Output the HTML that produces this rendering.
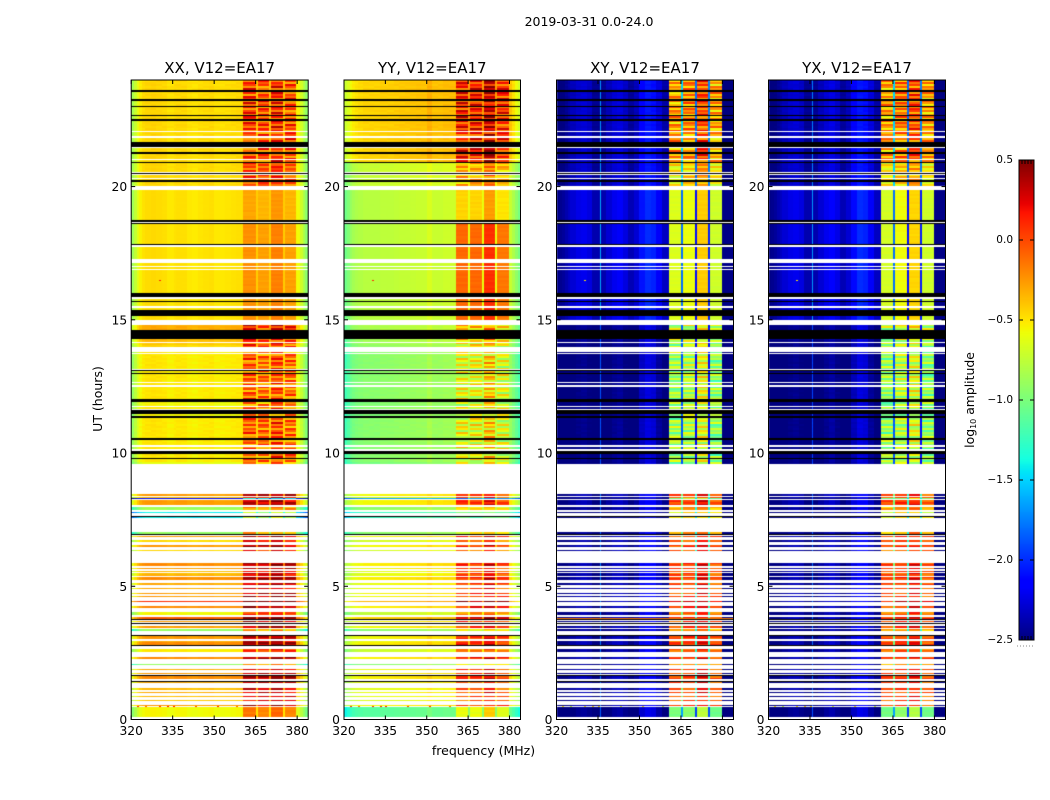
<!DOCTYPE html>
<html lang="en">
<head>
<meta charset="utf-8">
<title>2019-03-31 0.0-24.0</title>
<style>
html,body{margin:0;padding:0;background:#fff;}
#stage{position:relative;width:1050px;height:800px;overflow:hidden;background:#fff;font-family:"DejaVu Sans","Liberation Sans",sans-serif;}
canvas{position:absolute;display:block;}
svg{position:absolute;left:0;top:0;}
svg text{font-family:"DejaVu Sans","Liberation Sans",sans-serif;fill:#000;}
</style>
</head>
<body>
<div id="stage">
<canvas id="c0" style="left:131px;top:80px" width="177" height="640"></canvas>
<canvas id="c1" style="left:344px;top:80px" width="177" height="640"></canvas>
<canvas id="c2" style="left:556px;top:80px" width="177" height="640"></canvas>
<canvas id="c3" style="left:768px;top:80px" width="177" height="640"></canvas>
<canvas id="cb" style="left:1019px;top:160px" width="15" height="480"></canvas>
<svg id="overlay" width="1050" height="800" xmlns="http://www.w3.org/2000/svg">
<text x="589" y="26" text-anchor="middle" font-size="12.5">2019-03-31 0.0-24.0</text>
<text x="483.5" y="755" text-anchor="middle" font-size="12.5">frequency (MHz)</text>
<text transform="translate(102,399) rotate(-90)" text-anchor="middle" font-size="12.5">UT (hours)</text>
<text transform="translate(974,400) rotate(-90)" text-anchor="middle" font-size="12.4">log<tspan font-size="8" dy="2">10</tspan><tspan dy="-2"> amplitude</tspan></text>
</svg>
</div>
<script>
const panelNames = ['XX', 'YY', 'XY', 'YX'];
const panelTitleSuffix = ', V12=EA17';
const xTicks = [320, 335, 350, 365, 380];
const yTicks = [0, 5, 10, 15, 20];
const colorbarTicks = [0.5, 0, -0.5, -1, -1.5, -2, -2.5];
const colorbarTickLabels = ['0.5', '0.0', '\u22120.5', '\u22121.0', '\u22121.5', '\u22122.0', '\u22122.5'];

const channelEdgesMHz = [320,321,322,323,324,325,327,329,331,333,335.6,336.1,338,340,342,344,346,348,350,352,354,356,358,360.5,365,365.8,370,370.7,374.8,375.5,379.7,381,382,383,384];
const subBandBins = [23, 25, 27, 29];
const gapBins = [24, 26, 28];

const spectrumXX = [-0.85,-0.72,-0.6,-0.52,-0.47,-0.45,-0.44,-0.45,-0.46,-0.49,-0.47,-0.46,-0.46,-0.49,-0.5,-0.48,-0.47,-0.46,-0.49,-0.49,-0.48,-0.47,-0.46,-0.15,-0.4,-0.2,-0.4,-0.1,-0.4,-0.2,-0.55,-0.68,-0.8,-0.92];
const spectrumYY = [-1.05,-0.98,-0.9,-0.85,-0.82,-0.8,-0.78,-0.78,-0.78,-0.76,-0.76,-0.76,-0.75,-0.74,-0.74,-0.73,-0.72,-0.72,-0.66,-0.72,-0.72,-0.7,-0.7,-0.1,-0.6,-0.1,-0.6,0.08,-0.6,-0.15,-0.72,-0.82,-0.92,-1.02];
const spectrumXY = [-2.45,-2.43,-2.4,-2.35,-2.3,-2.25,-2.2,-2.18,-2.22,-2.35,-1.6,-2.35,-2.25,-2.18,-2.15,-2.22,-2.33,-2.25,-2.05,-1.97,-2,-2.15,-2.3,-0.65,-1.8,-0.6,-2.1,-0.42,-2.05,-0.7,-2.45,-2.45,-2.45,-2.45];
const spectrumYX = [-2.45,-2.43,-2.4,-2.35,-2.3,-2.25,-2.2,-2.18,-2.22,-2.35,-1.65,-2.35,-2.25,-2.18,-2.13,-2.2,-2.33,-2.25,-2.08,-1.97,-2,-2.15,-2.3,-0.68,-1.8,-0.58,-2.1,-0.45,-2.05,-0.7,-2.45,-2.45,-2.45,-2.45];

const epochTopUT = [24, 20.9, 20, 18.7, 15, 9.6, 0.47];
const epochRipple = [1, 0.7, 0.06, 0.06, 1, 0.45, 0.1];
const epochLowXX = [0, 0, -0.02, -0.02, -0.05, 0.05, -0.1];
const epochLowYY = [0.33, 0.05, 0, 0, -0.17, 0.12, -0.35];
const epochLowXY = [-0.1, -0.1, -0.03, -0.03, -0.28, -0.18, -0.25];
const epochLowYX = [-0.1, -0.1, -0.03, -0.03, -0.28, -0.18, -0.25];
const epochBandXX = [0.12, 0.12, -0.15, -0.08, 0.02, 0.35, 0];
const epochBandYY = [0.15, -0.25, -0.35, 0, -0.55, 0, -0.5];
const epochBandXY = [0.35, 0.1, 0, 0, -0.25, 0.55, -0.35];
const epochBandYX = [0.35, 0.1, 0, 0, -0.25, 0.55, -0.35];
const epochGapXX = [0, 0, 0, 0, 0, 0, 0];
const epochGapYY = [0, 0, 0, 0, 0, 0, 0];
const epochGapXY = [0.4, 0.4, 0.03, 0.03, 0.2, 0.95, 0.4];
const epochGapYX = [0.4, 0.4, 0.03, 0.03, 0.2, 0.95, 0.4];
const gainLowScale = [1, 0.6, 0.1, 0.1];
const gainBandScale = [1, 1, 0.5, 0.5];
const lowRippleShare = 0.06;

const rippleStepUT = 0.075;
const rippleSeq = [0.25,-0.15,0.3,0.05,-0.25,0.2,-0.1,0.35,-0.2,0.1,0.28,-0.3,0.15,-0.05,0.32,-0.22,0.08,0.22,-0.18,0.3,-0.08,-0.28,0.18,0.02,0.26,-0.12,-0.24,0.34,-0.02,0.12,-0.2,0.24,-0.16,0.06,0.3,-0.26,0.14];

const observedUT = [
[24,23.61,0],[23.54,23.27,0],[23.21,23.04,0],[23.01,22.67,0],[22.64,22.52,0],[22.48,22.08,0],[22.03,21.88,0],[21.83,21.67,0],[21.44,21.28,0],[21.24,21.03,0],[20.99,20.94,0],[20.88,20.54,0],[20.43,20.33,0],[20.3,20.23,0],[20.19,20.04,0],
[19.86,18.73,0],[18.61,17.86,0],[17.73,17.27,0],[17.12,17.02,0],[16.97,16.89,0],[16.86,15.99,0],[15.78,15.71,0],[15.67,15.53,0],[15.46,15.36,0],[15.13,14.98,0],
[14.79,14.61,0.2],[14.27,14.15,0.15],[14.12,14.07,0.1],[14.04,13.98,0.05],[13.78,13.76,0],[13.73,13.17,0],[13.11,13.01,0],[12.98,12.66,0],[12.61,12.54,0],[12.47,12.02,0],[11.92,11.76,-0.05],[11.72,11.66,0],[11.63,11.61,0],[11.46,11.39,-0.05],[11.32,10.57,0],[10.49,10.29,0],[10.24,10.14,0],[9.98,9.82,0],[9.78,9.67,0],[9.67,9.59,-0.1],
[8.46,8.39,0.15],[8.36,8.31,0],[8.31,8.27,-1.7],[8.23,8.04,0.15],[7.96,7.88,-0.45],[7.79,7.76,-1],[7.61,7.57,-1],[7.02,6.97,-0.5],[6.89,6.84,0.15],[6.74,6.67,-0.05],[6.54,6.47,0.15],[6.36,6.32,-0.05],
[5.88,5.76,0.2],[5.69,5.63,0.15],[5.58,5.54,0.05],[5.48,5.43,0.05],[5.42,5.38,0.1],[5.33,5.23,0.2],[5.11,5.04,0.1],[4.92,4.88,0.1],[4.74,4.71,0.15],[4.63,4.58,0.15],[4.44,4.41,0.5],[4.26,4.17,0.2],[4.04,3.92,-0.15],[3.86,3.77,0.35],[3.68,3.65,0.15],[3.51,3.43,0.15],[3.38,3.31,-0.5],[3.12,3.01,0.15],[2.96,2.91,0.1],[2.91,2.78,0.2],[2.66,2.53,-0.1],[2.36,2.27,0.2],[2.08,2.03,-0.5],[1.89,1.86,0.1],[1.76,1.71,0.15],[1.63,1.51,0.2],[1.41,1.36,0.1],[1.19,1.1,0.05],[1.03,0.98,0.1],[0.88,0.84,0.05],[0.72,0.68,0],[0.54,0.51,0.15],[0.46,0.08,0]
];
const flaggedUT = [
[23.61,23.54],[23.27,23.21],[23.04,23.03],[22.67,22.64],[22.52,22.48],[21.67,21.65],[21.63,21.48],[21.28,21.24],[20.94,20.88],[20.51,20.46],[20.23,20.19],[18.73,18.68],[18.65,18.61],[17.86,17.83],[15.99,15.84],[15.71,15.67],[15.36,15.13],[14.61,14.27],[13.13,13.11],[13.01,12.98],[12.02,11.92],[11.61,11.46],[11.39,11.32],[10.57,10.49],[10.08,9.98],[9.82,9.78],[7.64,7.61],[6.95,6.91],[3.77,3.73],[3.62,3.58],[3.16,3.12],[2.78,2.76],[1.67,1.63],[1.44,1.41]
];

const rfiRowXY = [[3.8, 3.76, -0.15]];
const rfiSpotUT = [0.49,0.49,0.49,0.49,0.49,0.49,0.49,0.49,16.5,14.5];
const rfiSpotMHz = [322,325,330,333,335,343,351,358,330,333];
const rfiSpotValue = [0.1,-0.1,0.1,0.15,0.15,0,0.1,-0.1,0.1,0.1];

const axLeft = [131.2, 344, 556.5, 768.5];
const axWidth = [177, 176.5, 177, 177];
const axTop = 80;
const axBottom = 719.5;
const freqMin = 320;
const freqMax = 384;
const utMax = 24;
const cbLeft = 1019, cbRight = 1034, cbTop = 160, cbBottom = 640, cbMin = -2.5, cbMax = 0.5;

const spectra = [spectrumXX, spectrumYY, spectrumXY, spectrumYX];
const epochLow = [epochLowXX, epochLowYY, epochLowXY, epochLowYX];
const epochBand = [epochBandXX, epochBandYY, epochBandXY, epochBandYX];
const epochGap = [epochGapXX, epochGapYY, epochGapXY, epochGapYX];

function xScale(p, f) { return axLeft[p] + (f - freqMin) * axWidth[p] / (freqMax - freqMin); }
function yScale(ut) { return axBottom - ut * (axBottom - axTop) / utMax; }
function cbScale(v) { return cbBottom - (v - cbMin) * (cbBottom - cbTop) / (cbMax - cbMin); }

function seg(x, pts) {
  for (let i = 0; i < pts.length - 1; i++) {
    if (x <= pts[i + 1][0]) {
      const a = pts[i], b = pts[i + 1];
      return a[1] + (b[1] - a[1]) * (x - a[0]) / (b[0] - a[0]);
    }
  }
  return pts[pts.length - 1][1];
}
function jet(v) {
  const t = Math.min(1, Math.max(0, (v - cbMin) / (cbMax - cbMin)));
  const r = seg(t, [[0,0],[0.35,0],[0.66,1],[0.89,1],[1,0.5]]);
  const g = seg(t, [[0,0],[0.125,0],[0.375,1],[0.64,1],[0.91,0],[1,0]]);
  const b = seg(t, [[0,0.5],[0.11,1],[0.34,1],[0.65,0],[1,0]]);
  return 'rgb(' + Math.round(r * 255) + ',' + Math.round(g * 255) + ',' + Math.round(b * 255) + ')';
}
function epochOf(ut) {
  let e = 0;
  for (let i = 0; i < epochTopUT.length; i++) { if (ut <= epochTopUT[i]) e = i; }
  return e;
}
function cellValue(p, b, ut, gain) {
  const e = epochOf(ut);
  const n = rippleSeq.length;
  const r = rippleSeq[(Math.floor(ut / rippleStepUT) + p * 7 + b * 3) % n] * epochRipple[e];
  if (subBandBins.includes(b)) {
    return spectra[p][b] + epochBand[p][e] + gain * gainBandScale[p] + r;
  }
  if (gapBins.includes(b)) {
    return spectra[p][b] + epochLow[p][e] + epochGap[p][e] + gain * gainLowScale[p] + r * lowRippleShare;
  }
  return spectra[p][b] + epochLow[p][e] + gain * gainLowScale[p] + r * lowRippleShare;
}

function drawPanel(p) {
  const canvas = document.getElementById('c' + p);
  const ctx = canvas.getContext('2d');
  const ox = parseFloat(canvas.style.left), oy = axTop;
  ctx.fillStyle = '#fff';
  ctx.fillRect(0, 0, canvas.width, canvas.height);
  const colEdges = channelEdgesMHz.map(function (f) { return Math.round(xScale(p, f) - ox); });
  observedUT.forEach(function (row) {
    const y0 = Math.round(yScale(row[0]));
    const y1 = Math.max(y0 + 1, Math.round(yScale(row[1])));
    for (let y = y0; y < y1; y++) {
      const ut = (axBottom - y - 0.5) * utMax / (axBottom - axTop);
      for (let b = 0; b < spectra[p].length; b++) {
        ctx.fillStyle = jet(cellValue(p, b, ut, row[2]));
        ctx.fillRect(colEdges[b], y - oy, colEdges[b + 1] - colEdges[b], 1);
      }
    }
  });
  if (p === 2) {
    rfiRowXY.forEach(function (row) {
      const y0 = Math.round(yScale(row[0]));
      const y1 = Math.max(y0 + 1, Math.round(yScale(row[1])));
      ctx.fillStyle = jet(row[2]);
      ctx.fillRect(colEdges[0], y0 - oy, colEdges[colEdges.length - 1], y1 - y0);
    });
  }
  rfiSpotUT.forEach(function (ut, i) {
    const base = p < 2 ? rfiSpotValue[i] : rfiSpotValue[i] - 0.6;
    ctx.fillStyle = jet(base);
    ctx.fillRect(Math.round(xScale(p, rfiSpotMHz[i]) - ox), Math.round(yScale(ut)) - oy, 2, 1);
  });
  flaggedUT.forEach(function (row) {
    const y0 = Math.round(yScale(row[0]));
    const y1 = Math.max(y0 + 1, Math.round(yScale(row[1])));
    ctx.fillStyle = '#000';
    ctx.fillRect(0, y0 - oy, canvas.width, y1 - y0);
  });
}

const NS = 'http://www.w3.org/2000/svg';
const overlay = document.getElementById('overlay');
function addLine(x1, y1, x2, y2) {
  const l = document.createElementNS(NS, 'line');
  l.setAttribute('x1', x1);
  l.setAttribute('y1', y1);
  l.setAttribute('x2', x2);
  l.setAttribute('y2', y2);
  l.setAttribute('stroke', '#000');
  l.setAttribute('stroke-width', '1');
  overlay.appendChild(l);
  return l;
}
function addText(x, y, str, anchor, size) {
  const t = document.createElementNS(NS, 'text');
  t.setAttribute('x', x);
  t.setAttribute('y', y);
  t.setAttribute('text-anchor', anchor);
  t.setAttribute('font-size', size);
  t.textContent = str;
  overlay.appendChild(t);
  return t;
}

function drawAxes(p) {
  const left = axLeft[p], right = axLeft[p] + axWidth[p];
  const name = panelNames[p].toLowerCase();
  const frame = document.createElementNS(NS, 'rect');
  frame.setAttribute('x', left);
  frame.setAttribute('y', axTop);
  frame.setAttribute('width', axWidth[p]);
  frame.setAttribute('height', axBottom - axTop);
  frame.setAttribute('fill', 'none');
  frame.setAttribute('stroke', '#000');
  frame.setAttribute('stroke-width', '1');
  
  
  overlay.appendChild(frame);

  const title = addText((left + right) / 2, 73, panelNames[p] + panelTitleSuffix, 'middle', 15);
  
  

  xTicks.forEach(function (f) {
    const x = xScale(p, f);
    const bottomTick = addLine(x, axBottom, x, axBottom - 4);
    
    
    const topTick = addLine(x, axTop, x, axTop + 4);
    
    
    const label = addText(x, 735, String(f), 'middle', 12.3);
    
    
  });
  yTicks.forEach(function (u) {
    const y = yScale(u);
    const leftTick = addLine(left, y, left + 4, y);
    
    
    const rightTick = addLine(right, y, right - 4, y);
    
    
    const label = addText(left - 4, y + 4.5, String(u), 'end', 12.3);
    
    
  });
}

function drawColorbar() {
  const ctx = document.getElementById('cb').getContext('2d');
  for (let y = 0; y < cbBottom - cbTop; y++) {
    const v = cbMax - (y + 0.5) * (cbMax - cbMin) / (cbBottom - cbTop);
    ctx.fillStyle = jet(v);
    ctx.fillRect(0, y, cbRight - cbLeft, 1);
  }
  const frame = document.createElementNS(NS, 'rect');
  frame.setAttribute('x', cbLeft);
  frame.setAttribute('y', cbTop);
  frame.setAttribute('width', cbRight - cbLeft);
  frame.setAttribute('height', cbBottom - cbTop);
  frame.setAttribute('fill', 'none');
  frame.setAttribute('stroke', '#000');
  frame.setAttribute('stroke-width', '1');
  
  
  overlay.appendChild(frame);
  colorbarTicks.forEach(function (v, i) {
    const y = cbScale(v);
    const tl = addLine(cbLeft, y, cbLeft + 4, y);
    
    
    const tr = addLine(cbRight, y, cbRight - 4, y);
    
    
    const label = addText(cbLeft - 6, y + 3, colorbarTickLabels[i], 'end', 10.5);
    
    
  });
  for (let i = 1; i < 5; i++) {
    const x = cbLeft + i * (cbRight - cbLeft) / 5;
    const a = addLine(x, cbTop, x, cbTop + 4);
    
    
    const c = addLine(x, cbBottom, x, cbBottom - 4);
    
    
  }
  const dots = addLine(cbLeft - 2, 646, cbRight, 646);
  dots.setAttribute('stroke', '#888');
  dots.setAttribute('stroke-dasharray', '1 2');
  
  
}

[0, 1, 2, 3].forEach(function (p) {
  drawPanel(p);
  drawAxes(p);
});
drawColorbar();
</script>
</body>
</html>
